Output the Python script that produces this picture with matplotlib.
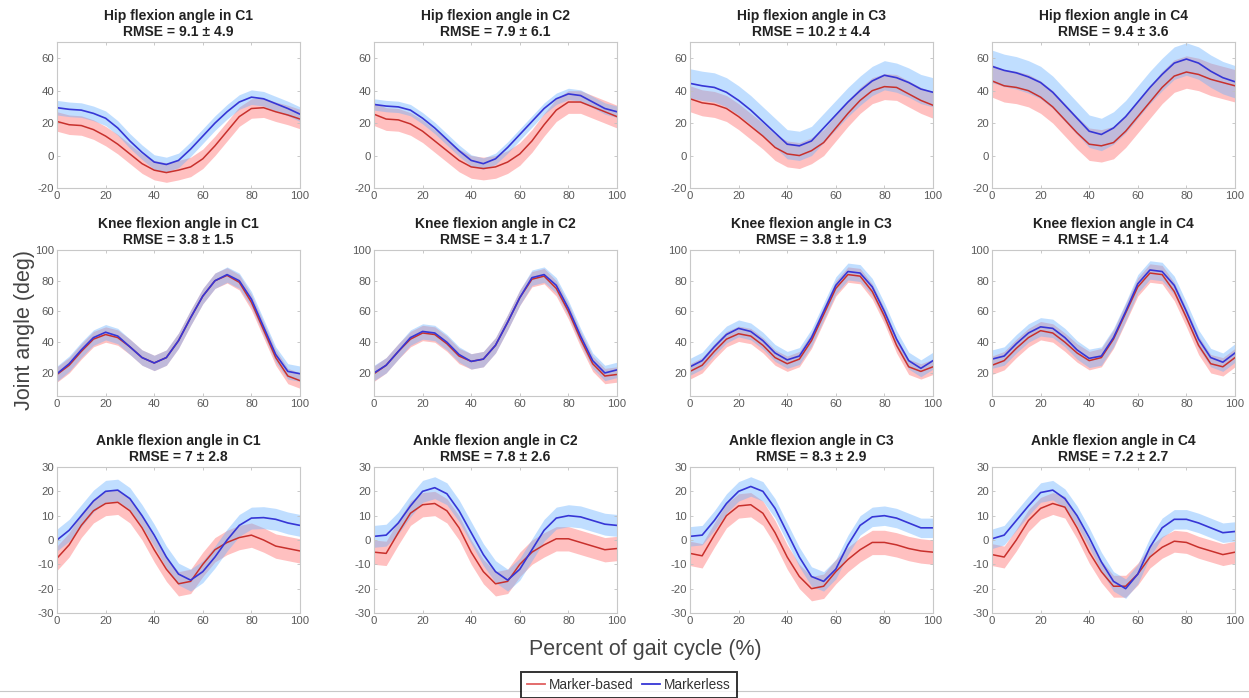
import numpy as np
import matplotlib
matplotlib.use('Agg')
import matplotlib.pyplot as plt
from matplotlib.lines import Line2D

plt.rcParams['font.family'] = ['Liberation Sans', 'DejaVu Sans']
plt.rcParams['axes.unicode_minus'] = False

# gait cycle sample points (%)
pct = list(range(0, 101, 5))
conds = ['C1', 'C2', 'C3', 'C4']

# hip flexion, mean curves per condition
hip_mb = [
    [21, 19, 18.5, 16, 12, 7, 1, -5, -9, -10.5, -9, -7, -2, 6, 15, 24, 29, 29.5, 27, 25, 22.5],
    [25.5, 22.5, 22, 19.5, 15, 9, 3, -3, -7, -8, -7, -4, 1, 9, 19, 28, 33, 33, 30, 27, 24],
    [35, 32.5, 31.5, 29, 24, 18, 12, 5, 1, 0, 3, 8, 17, 26, 34, 40, 42.5, 42, 38, 34, 31],
    [46, 43, 42, 40, 36, 30, 22, 14, 7, 6, 8, 15, 24, 33, 42, 49, 51.5, 50, 47, 45, 43],
]
hip_ml = [
    [29.5, 28.5, 28, 26, 23, 17, 9, 2, -4, -5.5, -3, 4, 12, 20, 27, 33, 36, 35, 32, 29, 25.5],
    [31.5, 30.5, 30, 28, 23, 17, 10, 3, -3, -5, -2, 5, 13, 21, 29, 35, 38, 37, 33, 29, 27],
    [44.5, 43, 42, 39, 34, 28, 21, 14, 7, 6, 9, 17, 25, 33, 40, 46, 49.5, 48, 45, 41, 39],
    [55, 52.5, 51, 48.5, 45, 39, 31, 23, 15, 13, 17, 24, 33, 42, 50, 57, 59.5, 57, 52, 48, 45.5],
]
hip_mb_sd = [6, 7, 8, 10]
hip_ml_sd = [4.5, 3.5, 9, 10]
hip_rmse = ['9.1 ± 4.9', '7.9 ± 6.1', '10.2 ± 4.4', '9.4 ± 3.6']

# knee flexion
knee_mb = [
    [19, 25, 34, 42, 45, 43, 37, 30, 26.5, 30, 41, 56, 70, 80, 83.5, 79, 66, 48, 30, 18, 15],
    [19.5, 25, 34, 42, 46, 45, 39, 31, 27.5, 29, 38, 53, 69, 81, 83, 75, 60, 42, 26, 18, 19],
    [21, 25, 34, 42, 45.5, 44, 38, 30, 26, 29, 41, 58, 75, 84, 83, 73, 57, 38, 24, 21, 24],
    [25, 28, 36, 43, 47.5, 46, 40, 33, 28, 30, 42, 59, 76, 85, 84, 73, 56, 38, 26, 24, 30],
]
knee_ml = [
    [19.5, 26, 35, 43, 46.5, 44, 37, 30, 26.5, 30, 41, 56, 70, 80, 84, 80, 68, 50, 32, 21, 19.5],
    [20, 25, 34, 43, 47, 46, 40, 32, 27.5, 29, 38, 53, 69, 82, 84, 77, 62, 44, 28, 20, 22],
    [24, 28, 37, 45, 49, 47, 41, 33, 28.5, 31, 43, 60, 77, 86, 85, 76, 60, 42, 28, 23, 28],
    [29, 31, 39, 46, 50, 49, 43, 35, 29.5, 31, 43, 60, 78, 87, 86, 77, 60, 42, 30, 27, 33],
]
knee_mb_sd = [5, 5, 5, 6]
knee_ml_sd = [5, 5, 5.5, 6]
knee_rmse = ['3.8 ± 1.5', '3.4 ± 1.7', '3.8 ± 1.9', '4.1 ± 1.4']

# ankle flexion
ankle_mb = [
    [-7.5, -2, 6, 12, 15, 15.5, 12, 5, -4, -12, -18, -17, -10, -4, -1, 1, 2, 0, -2.5, -3.5, -4.5],
    [-5, -5.5, 3, 11, 14.5, 15, 12, 5, -5, -13, -18, -17, -10, -5, -2, 0.5, 0.5, -1, -2.5, -4, -3.5],
    [-5.5, -6.5, 2, 10, 14, 14.5, 11, 3, -7, -15, -20, -19, -13, -8, -4, -1, -1, -2, -3.5, -4.5, -5],
    [-6, -7, 0, 8, 13, 15, 13.5, 5, -5, -13, -19, -19, -14, -7, -3, -0.5, -1, -3, -4.5, -6, -5],
]
ankle_ml = [
    [0, 4, 10, 16, 20, 20.5, 17, 10, 2, -7, -14, -16.5, -13, -7, 0, 6, 9, 9.2, 8.5, 7, 6],
    [1.5, 2, 7, 14, 20, 21.5, 19, 12, 3, -6, -13, -16.5, -12, -4, 4, 9, 10, 9.5, 8, 6.5, 6],
    [1.5, 2, 8, 15, 20, 22, 20, 13, 3, -7, -15, -17, -12, -2, 6, 9.5, 10, 9, 7, 5, 5],
    [0.5, 2, 8, 14, 19.5, 20.5, 17, 10, 1, -9, -17, -20, -14, -3, 5, 8.5, 8.5, 7, 5, 3, 3.5],
]
ankle_mb_sd = [5, 5, 5, 4.5]
ankle_ml_sd = [4.5, 4.5, 4, 4]
ankle_rmse = ['7 ± 2.8', '7.8 ± 2.6', '8.3 ± 2.9', '7.2 ± 2.7']

rows = [
    ('Hip', hip_mb, hip_ml, hip_mb_sd, hip_ml_sd, hip_rmse, (-20, 70), [-20, 0, 20, 40, 60]),
    ('Knee', knee_mb, knee_ml, knee_mb_sd, knee_ml_sd, knee_rmse, (5, 100), [20, 40, 60, 80, 100]),
    ('Ankle', ankle_mb, ankle_ml, ankle_mb_sd, ankle_ml_sd, ankle_rmse, (-30, 30), [-30, -20, -10, 0, 10, 20, 30]),
]

RED = '#c8302c'
BLUE = '#3636d6'
RED_BAND = '#ff6a6a'
BLUE_BAND = '#6ab2ff'

fig = plt.figure(figsize=(12.49, 6.98), dpi=100)

lefts = [57, 374, 690, 992]
tops = [42, 250, 467]
W, H = 1249.0, 698.0
aw, ah = 243, 146

x = np.array(pct)
for r, (joint, mb, ml, mb_sd, ml_sd, rmse, ylim, yticks) in enumerate(rows):
    for c in range(4):
        ax = fig.add_axes([lefts[c] / W, 1 - (tops[r] + ah) / H, aw / W, ah / H])
        m1 = np.array(mb[c])
        m2 = np.array(ml[c])
        ax.fill_between(x, m1 - mb_sd[c], m1 + mb_sd[c], color=RED_BAND, alpha=0.42, lw=0)
        ax.plot(x, m1, color=RED, lw=1.1)
        ax.fill_between(x, m2 - ml_sd[c], m2 + ml_sd[c], color=BLUE_BAND, alpha=0.42, lw=0)
        ax.plot(x, m2, color=BLUE, lw=1.2)
        ax.set_xlim(0, 100)
        ax.set_ylim(*ylim)
        ax.set_xticks([0, 20, 40, 60, 80, 100])
        ax.set_yticks(yticks)
        ax.tick_params(direction='in', length=2.5, width=0.6, colors='#c0c0c0',
                       labelcolor='#5a5a5a', labelsize=8.2, top=True, right=True, pad=2)
        for s in ax.spines.values():
            s.set_color('#c8c8c8')
            s.set_linewidth(0.8)
        ax.set_title('%s flexion angle in %s\nRMSE = %s' % (joint, conds[c], rmse[c]),
                     fontsize=10, fontweight='bold', color='#222222', pad=4, linespacing=1.25)

fig.text(25 / W, 1 - 330 / H, 'Joint angle (deg)', rotation=90, ha='center', va='center',
         fontsize=15.5, color='#444444')
fig.text(645 / W, 1 - 650 / H, 'Percent of gait cycle (%)', ha='center', va='center',
         fontsize=15.5, color='#444444')

# thin grey rule along the bottom
fig.add_artist(Line2D([0, 1], [1 - 691 / H, 1 - 691 / H], color='#c8c8c8', lw=0.8))

handles = [Line2D([], [], color='#e06060', lw=1.3), Line2D([], [], color=BLUE, lw=1.3)]
leg = fig.legend(handles, ['Marker-based', 'Markerless'], loc='upper center',
                 bbox_to_anchor=(629 / W, 1 - 672 / H), ncol=2, fontsize=9.8,
                 frameon=True, fancybox=False, handlelength=1.3, handletextpad=0.3,
                 columnspacing=0.6, borderpad=0.45, borderaxespad=0)
leg.get_frame().set_edgecolor('black')
leg.get_frame().set_linewidth(1.4)
for t in leg.get_texts():
    t.set_color('#333333')

fig.savefig('out.png', dpi=100, facecolor='white')
